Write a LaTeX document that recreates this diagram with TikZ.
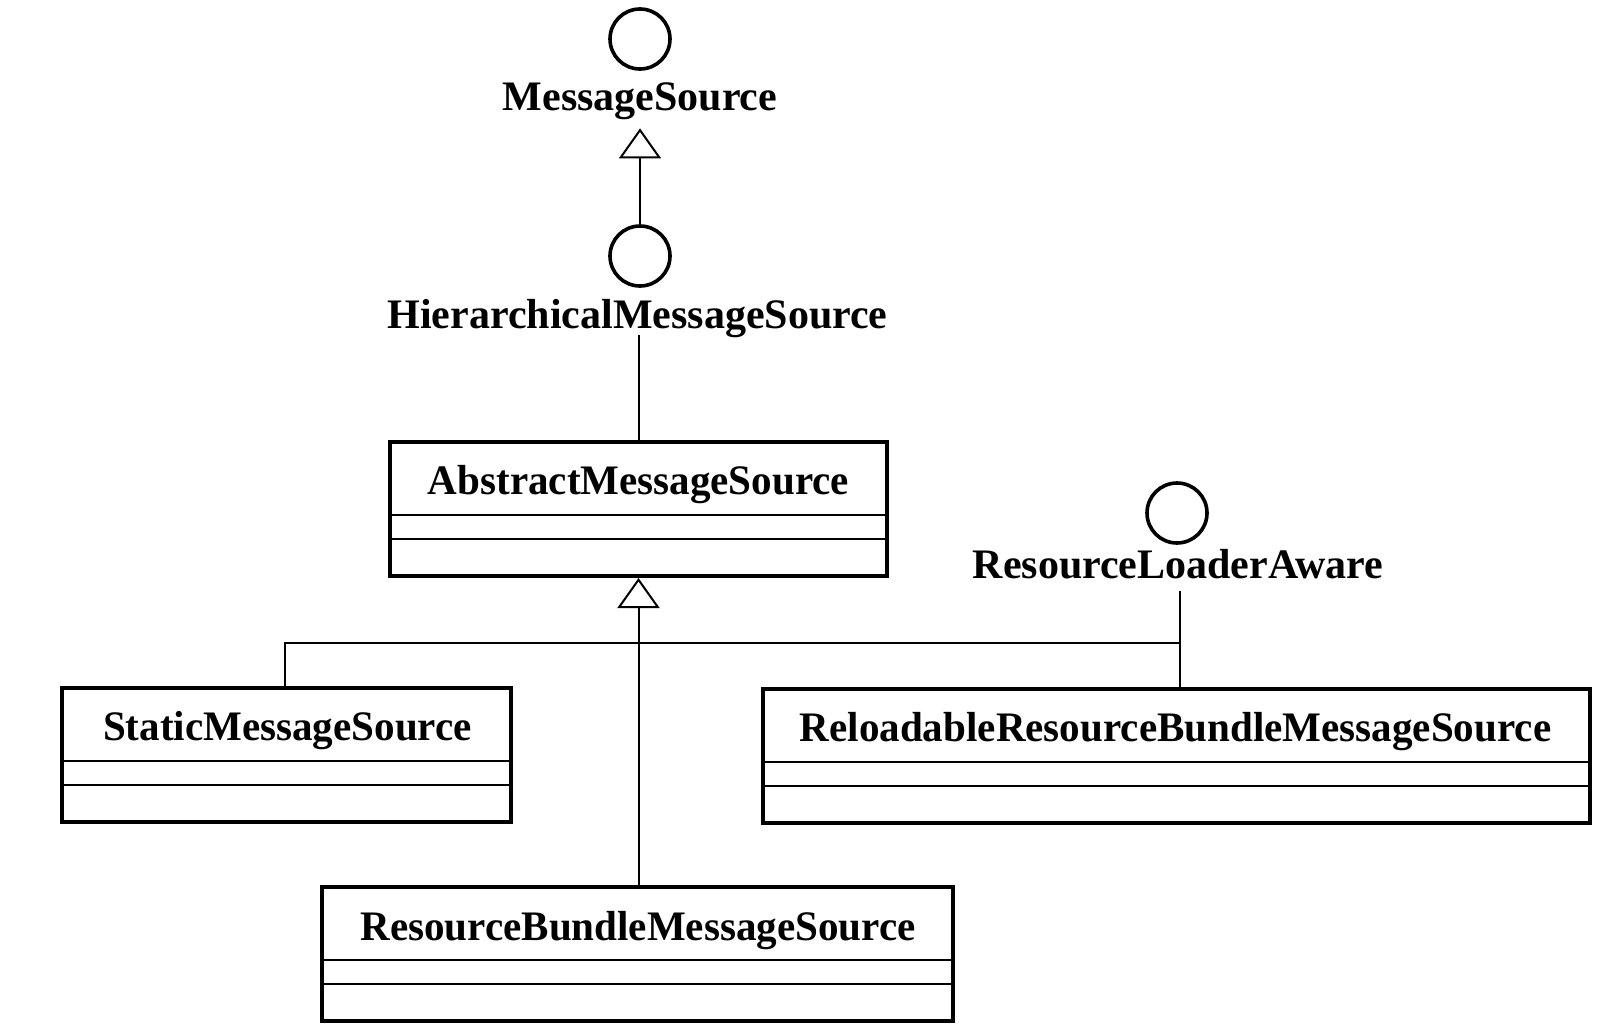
\documentclass[tikz,border=0pt]{standalone}
\usepackage{fontspec}
\setmainfont{Liberation Serif}
\usetikzlibrary{arrows.meta}
\newcommand\cname[1]{\scalebox{0.978}[1]{#1}}
\begin{document}
\begin{tikzpicture}[x=0.5pt,y=-0.5pt,
  lbl/.style={font=\fontsize{21pt}{25pt}\selectfont\bfseries, inner sep=0pt, text depth=0pt, anchor=base},
  iface/.style={circle, draw, line width=1.8pt, minimum size=30pt, inner sep=0pt},
  classbox/.style={draw, line width=2pt, minimum height=67pt, inner sep=0pt, anchor=north},
  divider/.style={line width=1pt},
  conn/.style={line width=1pt},
  gen/.style={conn, -{Triangle[open, length=15pt, width=21pt, line width=1pt]}}
]
\useasboundingbox (0,0) rectangle (1600,1028);

% interfaces
\node[iface] (msc) at (640,39) {};
\node[lbl] (ms) at (640,110) {MessageSource};
\node[iface] (hmsc) at (640,256) {};
\node[lbl] (hms) at (637.5,328) {HierarchicalMessageSource};
\node[iface] (rlac) at (1177,513) {};
\node[lbl] (rla) at (1178,578) {ResourceLoaderAware};

% classes
\node[classbox, minimum width=248.5pt] (abs) at (638.5,440) {};
\node[lbl] (absn) at (638.5,494) {\cname{AbstractMessageSource}};
\node[classbox, minimum width=224.5pt] (st) at (286.5,686) {};
\node[lbl] (stn) at (287.5,740) {\cname{StaticMessageSource}};
\node[classbox, minimum width=413.5pt] (rl) at (1176.5,687) {};
\node[lbl] (rln) at (1175.5,741) {\cname{ReloadableResourceBundleMessageSource}};
\node[classbox, minimum width=315.5pt] (rb) at (637.5,885) {};
\node[lbl] (rbn) at (638,940) {\cname{ResourceBundleMessageSource}};

\foreach \b in {abs,st,rl,rb}{
  \draw[divider] ([yshift=-37.5pt]\b.north west) -- ([yshift=-37.5pt]\b.north east);
  \draw[divider] ([yshift=-49.5pt]\b.north west) -- ([yshift=-49.5pt]\b.north east);
}

% connectors
\coordinate (j) at (1180,643);
\draw[gen, shorten >=9pt] (hmsc.north) -- (ms.south -| hmsc.north);
\draw[conn, shorten <=3.5pt] (hms.south -| abs.north) -- (abs.north);
\draw[gen] (rb.north -| abs.south) -- (abs.south);
\draw[conn] (st.north -| 285,0) |- (j);
\draw[conn, shorten <=6.5pt] (rla.south -| j) -- (rl.north -| j);
\end{tikzpicture}
\end{document}
